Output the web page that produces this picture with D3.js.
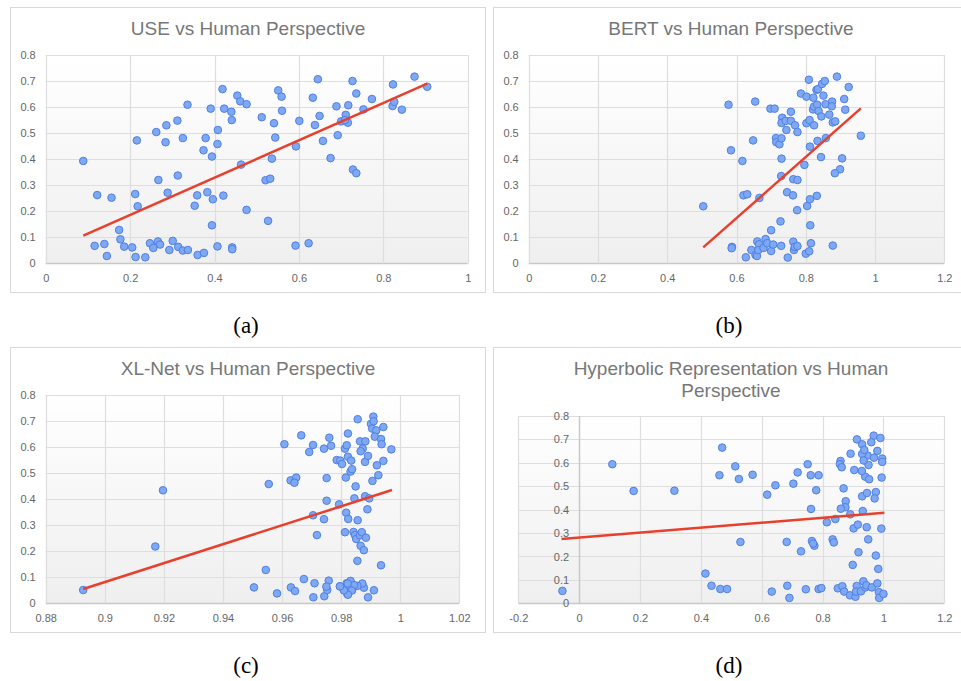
<!DOCTYPE html>
<html>
<head>
<meta charset="utf-8">
<script src="https://cdn.jsdelivr.net/npm/d3@7"></script>
<style>
  body { margin: 0; background: #fff; }
  .tick text { font-family: "Liberation Sans", Arial, sans-serif; font-size: 11px; fill: #666; }
  .title { font-family: "Liberation Sans", Arial, sans-serif; font-size: 19px; fill: #777; }
  .caption { font-family: "Liberation Serif", "Times New Roman", serif; font-size: 23px; fill: #000; }
</style>
</head>
<body>
<div id="chart"></div>
<script>
// values: [model score, human score]
const useData = [
  [0.089,0.393],[0.122,0.262],[0.156,0.252],[0.116,0.067],[0.139,0.074],[0.145,0.028],[0.174,0.128],
  [0.177,0.092],[0.186,0.064],[0.205,0.061],[0.212,0.266],[0.218,0.219],[0.216,0.472],[0.213,0.024],
  [0.236,0.023],[0.247,0.077],[0.255,0.059],[0.262,0.504],[0.267,0.320],[0.266,0.084],[0.271,0.072],
  [0.284,0.465],[0.286,0.530],[0.289,0.271],[0.293,0.051],[0.301,0.086],[0.312,0.548],[0.313,0.337],
  [0.314,0.063],[0.325,0.481],[0.325,0.049],[0.336,0.609],[0.337,0.051],[0.360,0.032],[0.359,0.261],
  [0.353,0.221],[0.375,0.040],[0.374,0.434],[0.379,0.481],[0.383,0.273],[0.391,0.594],[0.394,0.410],
  [0.396,0.246],[0.394,0.146],[0.407,0.065],[0.407,0.458],[0.408,0.512],[0.419,0.669],[0.423,0.594],
  [0.421,0.260],[0.440,0.582],[0.441,0.550],[0.442,0.061],[0.442,0.054],[0.454,0.644],[0.461,0.622],
  [0.476,0.611],[0.463,0.379],[0.476,0.205],[0.512,0.561],[0.521,0.319],[0.532,0.325],[0.527,0.163],
  [0.536,0.402],[0.541,0.538],[0.544,0.483],[0.551,0.664],[0.559,0.640],[0.560,0.586],[0.592,0.068],
  [0.593,0.449],[0.601,0.547],[0.623,0.077],[0.633,0.636],[0.638,0.531],[0.645,0.707],[0.649,0.566],
  [0.657,0.470],[0.675,0.404],[0.689,0.603],[0.692,0.492],[0.700,0.545],[0.711,0.570],[0.717,0.607],
  [0.716,0.540],[0.709,0.550],[0.727,0.700],[0.728,0.360],[0.736,0.346],[0.736,0.652],[0.753,0.591],
  [0.773,0.631],[0.823,0.687],[0.822,0.604],[0.826,0.620],[0.844,0.590],[0.874,0.717],[0.904,0.678]
];
const bertData = [
  [0.504,0.219],[0.577,0.609],[0.584,0.434],[0.587,0.063],[0.586,0.058],[0.617,0.393],[0.654,0.621],
  [0.648,0.472],[0.620,0.261],[0.631,0.265],[0.666,0.251],[0.627,0.023],[0.643,0.051],[0.655,0.032],
  [0.659,0.028],[0.660,0.084],[0.665,0.073],[0.663,0.051],[0.678,0.059],[0.684,0.093],[0.689,0.077],
  [0.700,0.047],[0.700,0.127],[0.706,0.072],[0.698,0.594],[0.710,0.594],[0.727,0.161],[0.729,0.067],
  [0.729,0.335],[0.730,0.402],[0.714,0.481],[0.715,0.465],[0.724,0.457],[0.730,0.480],[0.732,0.559],
  [0.730,0.539],[0.742,0.547],[0.744,0.512],[0.757,0.582],[0.757,0.547],[0.769,0.530],[0.776,0.504],
  [0.746,0.273],[0.763,0.261],[0.748,0.022],[0.764,0.083],[0.766,0.051],[0.768,0.063],[0.776,0.066],
  [0.764,0.323],[0.776,0.320],[0.775,0.204],[0.796,0.378],[0.800,0.037],[0.810,0.046],[0.815,0.077],
  [0.813,0.146],[0.804,0.220],[0.812,0.246],[0.832,0.259],[0.812,0.448],[0.844,0.408],[0.834,0.470],
  [0.858,0.481],[0.802,0.538],[0.811,0.550],[0.824,0.530],[0.786,0.652],[0.802,0.640],[0.809,0.705],
  [0.822,0.636],[0.821,0.591],[0.824,0.602],[0.833,0.609],[0.837,0.585],[0.845,0.564],[0.831,0.666],
  [0.835,0.669],[0.847,0.689],[0.855,0.700],[0.851,0.644],[0.857,0.611],[0.868,0.571],[0.876,0.621],
  [0.875,0.603],[0.878,0.541],[0.885,0.545],[0.890,0.717],[0.911,0.631],[0.914,0.590],[0.924,0.677],
  [0.905,0.403],[0.899,0.361],[0.884,0.346],[0.878,0.068],[0.959,0.490]
];
const xlnetData = [
  [0.8927,0.051],[0.9197,0.434],[0.9171,0.218],[0.9505,0.061],[0.9545,0.128],[0.9555,0.458],[0.9583,0.038],
  [0.9608,0.611],[0.9630,0.061],[0.9644,0.047],[0.9629,0.472],[0.9648,0.483],[0.9642,0.463],[0.9665,0.645],
  [0.9674,0.093],[0.9692,0.581],[0.9705,0.608],[0.9706,0.023],[0.9710,0.077],[0.9705,0.338],[0.9718,0.262],
  [0.9742,0.594],[0.9743,0.027],[0.9742,0.323],[0.9751,0.481],[0.9753,0.051],[0.9758,0.087],[0.9750,0.064],
  [0.9760,0.636],[0.9766,0.605],[0.9751,0.394],[0.9793,0.380],[0.9785,0.550],[0.9797,0.548],[0.9803,0.535],
  [0.9796,0.065],[0.9812,0.050],[0.9816,0.483],[0.9813,0.594],[0.9819,0.607],[0.9817,0.348],[0.9824,0.324],
  [0.9813,0.273],[0.9819,0.077],[0.9823,0.652],[0.9821,0.036],[0.9823,0.563],[0.9834,0.548],[0.9832,0.506],
  [0.9837,0.515],[0.9832,0.086],[0.9837,0.051],[0.9849,0.449],[0.9856,0.707],[0.9855,0.163],[0.9842,0.274],
  [0.9847,0.262],[0.9851,0.247],[0.9856,0.319],[0.9845,0.403],[0.9864,0.261],[0.9866,0.221],[0.9877,0.204],
  [0.9870,0.273],[0.9884,0.252],[0.9881,0.411],[0.9889,0.361],[0.9895,0.403],[0.9864,0.622],[0.9882,0.622],
  [0.9873,0.594],[0.9866,0.584],[0.9881,0.543],[0.9891,0.566],[0.9901,0.689],[0.9905,0.671],[0.9909,0.717],
  [0.9910,0.699],[0.9919,0.664],[0.9914,0.640],[0.9935,0.631],[0.9937,0.611],[0.9943,0.677],[0.9970,0.591],
  [0.9943,0.547],[0.9921,0.530],[0.9926,0.492],[0.9906,0.470],[0.9935,0.146],[0.9911,0.050],[0.9891,0.023],
  [0.9877,0.060],[0.9872,0.076],[0.9855,0.067],[0.9844,0.070],[0.9836,0.049],[0.9823,0.033],[0.9822,0.076],
  [0.9809,0.050],[0.9796,0.065]
];
const hyperData = [
  [-0.055,0.053],[0.109,0.594],[0.179,0.480],[0.313,0.481],[0.415,0.127],[0.435,0.075],[0.461,0.547],
  [0.470,0.665],[0.464,0.061],[0.486,0.061],[0.513,0.585],[0.525,0.531],[0.530,0.262],[0.570,0.549],
  [0.618,0.464],[0.633,0.050],[0.645,0.504],[0.682,0.262],[0.684,0.075],[0.691,0.023],[0.704,0.511],
  [0.718,0.559],[0.729,0.222],[0.745,0.060],[0.751,0.594],[0.761,0.547],[0.762,0.403],[0.765,0.266],
  [0.773,0.246],[0.769,0.255],[0.779,0.483],[0.787,0.547],[0.787,0.061],[0.796,0.065],[0.814,0.346],
  [0.842,0.360],[0.833,0.273],[0.837,0.260],[0.850,0.064],[0.865,0.073],[0.871,0.050],[0.859,0.608],
  [0.857,0.594],[0.863,0.581],[0.869,0.491],[0.876,0.436],[0.875,0.410],[0.860,0.404],[0.891,0.380],
  [0.892,0.639],[0.904,0.569],[0.913,0.700],[0.902,0.320],[0.916,0.336],[0.899,0.164],[0.890,0.034],
  [0.908,0.028],[0.912,0.074],[0.910,0.050],[0.926,0.051],[0.934,0.094],[0.941,0.068],[0.944,0.077],
  [0.962,0.068],[0.980,0.085],[0.985,0.048],[0.986,0.023],[1.000,0.040],[0.918,0.218],[0.930,0.457],
  [0.932,0.394],[0.945,0.325],[0.950,0.273],[0.946,0.471],[0.975,0.475],[0.971,0.448],[0.993,0.319],
  [0.983,0.147],[0.975,0.204],[0.948,0.631],[0.951,0.591],[0.930,0.679],[0.930,0.638],[0.937,0.655],
  [0.940,0.541],[0.953,0.530],[0.929,0.565],[0.968,0.716],[0.960,0.688],[0.990,0.706],[0.980,0.651],
  [0.969,0.622],[0.996,0.618],[0.996,0.604],[0.994,0.537],[0.935,0.610]
];

// trend line end points
const useTrend = [[0.089,0.106],[0.904,0.690]];
const bertTrend = [[0.504,0.061],[0.959,0.595]];
const xlnetTrend = [[0.8927,0.055],[0.9972,0.435]];
const hyperTrend = [[-0.058,0.275],[1.003,0.387]];

const titles = [
  ["USE vs Human Perspective"],
  ["BERT vs Human Perspective"],
  ["XL-Net vs Human Perspective"],
  ["Hyperbolic Representation vs Human", "Perspective"]
];
const captions = ["(a)", "(b)", "(c)", "(d)"];

const yTicks = [0, 0.1, 0.2, 0.3, 0.4, 0.5, 0.6, 0.7, 0.8];
const xTicksA = [0, 0.2, 0.4, 0.6, 0.8, 1];
const xTicksB = [0, 0.2, 0.4, 0.6, 0.8, 1, 1.2];
const xTicksC = [0.88, 0.9, 0.92, 0.94, 0.96, 0.98, 1, 1.02];
const xTicksD = [-0.2, 0, 0.2, 0.4, 0.6, 0.8, 1, 1.2];

// layout of each panel: outer box and plot area, in page pixels
const panels = [
  { data: useData, trend: useTrend, xTicks: xTicksA, box: [10.5, 7.5], plot: [45.7, 467.7, 55, 263.3], titleY: [34.5] },
  { data: bertData, trend: bertTrend, xTicks: xTicksB, box: [493.5, 7.5], plot: [528.7, 944.3, 55, 263.3], titleY: [34.5] },
  { data: xlnetData, trend: xlnetTrend, xTicks: xTicksC, box: [10.5, 347.5], plot: [45.7, 459.3, 395, 603.3], titleY: [374.5] },
  { data: hyperData, trend: hyperTrend, xTicks: xTicksD, box: [493.5, 347.5], plot: [518.3, 944.3, 416, 603.3], titleY: [374.5, 396.5] }
];
const boxW = 475, boxH = 285;

const svg = d3.select("#chart")
  .append("svg")
  .attr("width", 961)
  .attr("height", 681);

const grad = svg.append("defs")
  .append("linearGradient")
  .attr("id", "plotBg")
  .attr("x1", 0).attr("y1", 0).attr("x2", 0).attr("y2", 1);
grad.append("stop").attr("offset", "0%").attr("stop-color", "#ffffff");
grad.append("stop").attr("offset", "100%").attr("stop-color", "#efefef");

const fmt = v => String(+v.toFixed(2));

panels.forEach((p, i) => {
  const [left, right, top, bottom] = p.plot;
  const x = d3.scaleLinear().domain(d3.extent(p.xTicks)).range([left, right]);
  const y = d3.scaleLinear().domain([0, 0.8]).range([bottom, top]);

  // outer frame
  svg.append("rect")
    .attr("x", p.box[0]).attr("y", p.box[1])
    .attr("width", boxW).attr("height", boxH)
    .attr("fill", "#fff")
    .attr("stroke", "#d9d9d9");

  // title
  const cx = p.box[0] + boxW / 2;
  titles[i].forEach((t, j) => {
    svg.append("text")
      .attr("class", "title")
      .attr("x", cx)
      .attr("y", p.titleY[j])
      .attr("text-anchor", "middle")
      .text(t);
  });

  // plot background
  svg.append("rect")
    .attr("x", left).attr("y", top)
    .attr("width", right - left).attr("height", bottom - top)
    .attr("fill", "url(#plotBg)");

  // grid lines
  const g = svg.append("g");
  g.selectAll(".hgrid")
    .data(yTicks)
    .enter()
    .append("line")
    .attr("x1", left).attr("x2", right)
    .attr("y1", d => Math.round(y(d)) + 0.5)
    .attr("y2", d => Math.round(y(d)) + 0.5)
    .attr("stroke", d => d === 0 ? "#c8c8c8" : "#dedede")
    .attr("stroke-width", d => d === 0 ? 1.5 : 1.2);

  g.selectAll(".vgrid")
    .data(p.xTicks)
    .enter()
    .append("line")
    .attr("y1", top).attr("y2", bottom)
    .attr("x1", d => Math.round(x(d)) + 0.5)
    .attr("x2", d => Math.round(x(d)) + 0.5)
    .attr("stroke", d => (d === 0 && i === 3) ? "#c8c8c8" : "#dedede")
    .attr("stroke-width", d => (d === 0 && i === 3) ? 1.5 : 1.2);

  // axes (labels only)
  const yAxisX = i === 3 ? x(0) : left;
  const yAxis = svg.append("g")
    .attr("transform", `translate(${yAxisX},0)`)
    .call(d3.axisLeft(y).tickValues(yTicks).tickFormat(fmt).tickSize(0).tickPadding(10));
  yAxis.select(".domain").remove();

  const xAxis = svg.append("g")
    .attr("transform", `translate(0,${bottom})`)
    .call(d3.axisBottom(x).tickValues(p.xTicks).tickFormat(fmt).tickSize(0).tickPadding(10.5));
  xAxis.select(".domain").remove();

  // points
  svg.append("g")
    .selectAll("circle")
    .data(p.data)
    .enter()
    .append("circle")
    .attr("cx", d => x(d[0]))
    .attr("cy", d => y(d[1]))
    .attr("r", 3.8)
    .attr("fill", "#7ea7f4")
    .attr("stroke", "#4f80e2")
    .attr("stroke-width", 1);

  // linear trend line
  svg.append("path")
    .datum(p.trend)
    .attr("d", d3.line().x(d => x(d[0])).y(d => y(d[1])))
    .attr("fill", "none")
    .attr("stroke", "#e8402c")
    .attr("stroke-width", 2.5);

  // caption under the panel
  svg.append("text")
    .attr("class", "caption")
    .attr("x", cx - 2)
    .attr("y", p.box[1] + boxH + 40)
    .attr("text-anchor", "middle")
    .text(captions[i]);
});
</script>
</body>
</html>
